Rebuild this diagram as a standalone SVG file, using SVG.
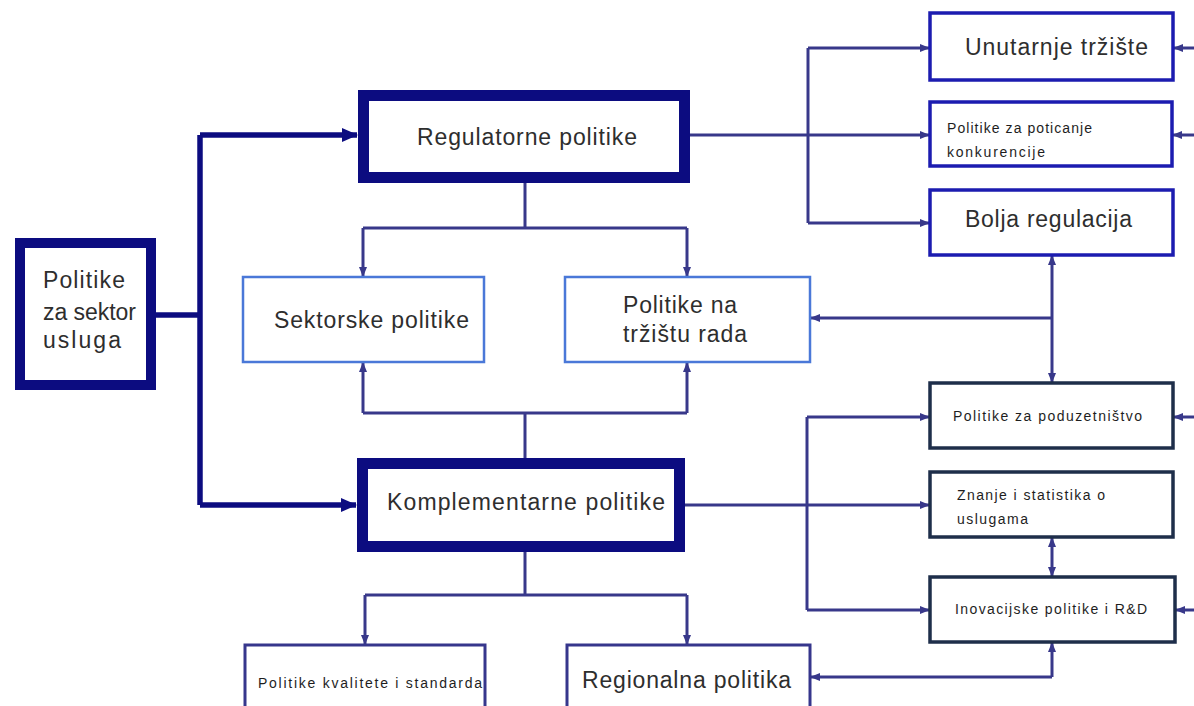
<svg xmlns="http://www.w3.org/2000/svg" width="1194" height="706" viewBox="0 0 1194 706">
<style>
text{font-family:"Liberation Sans","Open Sans",sans-serif;fill:#2e2e2e}
.big{font-size:23px}
.sm{font-size:14px;fill:#1e1e1e}
.thick{fill:#fff;stroke:#0c0c80;stroke-width:11}
.lb{fill:#fff;stroke:#4a78d8;stroke-width:2.5}
.bl{fill:#fff;stroke:#1c1cb0;stroke-width:3.5}
.dk{fill:#fff;stroke:#1e2e4a;stroke-width:3.5}
.pu{fill:#fff;stroke:#36368c;stroke-width:3}
.c{fill:none;stroke:#38388a;stroke-width:3}
.ct{fill:none;stroke:#0c0c80;stroke-width:5.5}
</style>
<defs>
<marker id="a" markerUnits="userSpaceOnUse" markerWidth="10" markerHeight="8" refX="9" refY="4" orient="auto"><path d="M0,0 L10,4 L0,8 Z" fill="#38388a"/></marker>
<marker id="as" markerUnits="userSpaceOnUse" markerWidth="10" markerHeight="8" refX="1" refY="4" orient="auto"><path d="M10,0 L0,4 L10,8 Z" fill="#38388a"/></marker>
<marker id="ab" markerUnits="userSpaceOnUse" markerWidth="16" markerHeight="14" refX="15" refY="7" orient="auto"><path d="M0,0 L16,7 L0,14 Z" fill="#0c0c80"/></marker>
</defs>
<rect width="1194" height="706" fill="#fff"/>
<g id="connectors">
<path class="ct" d="M156,315 H200"/>
<path class="ct" d="M200,135 V505"/>
<path class="ct" d="M200,135 H357" marker-end="url(#ab)"/>
<path class="ct" d="M200,505 H356" marker-end="url(#ab)"/>
<path class="c" d="M525,183 V228 M363,228 H687"/>
<path class="c" d="M363,228 V276" marker-end="url(#a)"/>
<path class="c" d="M687,228 V276" marker-end="url(#a)"/>
<path class="c" d="M363,413 H687 M525,413 V458"/>
<path class="c" d="M363,413 V363" marker-end="url(#a)"/>
<path class="c" d="M687,413 V363" marker-end="url(#a)"/>
<path class="c" d="M525,552 V595 M365,595 H687"/>
<path class="c" d="M365,595 V644" marker-end="url(#a)"/>
<path class="c" d="M687,595 V644" marker-end="url(#a)"/>
<path class="c" d="M690,135 H929" marker-end="url(#a)"/>
<path class="c" d="M808,48 V223"/>
<path class="c" d="M808,48 H929" marker-end="url(#a)"/>
<path class="c" d="M808,223 H929" marker-end="url(#a)"/>
<path class="c" d="M685,505 H929" marker-end="url(#a)"/>
<path class="c" d="M807,417 V610"/>
<path class="c" d="M807,417 H929" marker-end="url(#a)"/>
<path class="c" d="M807,610 H929" marker-end="url(#a)"/>
<path class="c" d="M1052,256 V382" marker-start="url(#as)" marker-end="url(#a)"/>
<path class="c" d="M1052,318 H811" marker-end="url(#a)"/>
<path class="c" d="M1052,538 V576" marker-start="url(#as)" marker-end="url(#a)"/>
<path class="c" d="M1052,677 V643" marker-end="url(#a)"/>
<path class="c" d="M1052,677 H811" marker-end="url(#a)"/>
<path class="c" d="M1194,48 H1174" marker-end="url(#a)"/>
<path class="c" d="M1194,135 H1173" marker-end="url(#a)"/>
<path class="c" d="M1194,417 H1174" marker-end="url(#a)"/>
<path class="c" d="M1194,610 H1176" marker-end="url(#a)"/>
</g>
<g id="n-sektor-usluga">
<rect x="20" y="243" width="131" height="142" fill="#fff" stroke="#0c0c80" stroke-width="10"/>
<text class="big" x="43" y="288" textLength="82">Politike</text>
<text class="big" x="43" y="320" textLength="93">za sektor</text>
<text class="big" x="43" y="348" textLength="78">usluga</text>
</g>
<g id="n-regulatorne">
<rect class="thick" x="363.5" y="95.5" width="321" height="82"/>
<text class="big" x="417" y="145" textLength="220">Regulatorne politike</text>
</g>
<g id="n-komplementarne">
<rect class="thick" x="362.5" y="463.5" width="317" height="83"/>
<text class="big" x="387" y="510" textLength="278">Komplementarne politike</text>
</g>
<g id="n-sektorske">
<rect class="lb" x="243" y="277" width="241" height="85"/>
<text class="big" x="274" y="328" textLength="195">Sektorske politike</text>
</g>
<g id="n-trziste-rada">
<rect class="lb" x="565" y="277" width="245" height="85"/>
<text class="big" x="623" y="313" textLength="114">Politike na</text>
<text class="big" x="623" y="342" textLength="124">tržištu rada</text>
</g>
<g id="n-unutarnje">
<rect class="bl" x="930" y="13" width="243" height="67"/>
<text class="big" x="965" y="55" textLength="183">Unutarnje tržište</text>
</g>
<g id="n-konkurencija">
<rect class="bl" x="930" y="102" width="242" height="64"/>
<text class="sm" x="947" y="133" textLength="145">Politike za poticanje</text>
<text class="sm" x="947" y="157" textLength="98">konkurencije</text>
</g>
<g id="n-bolja">
<rect class="bl" x="930" y="190" width="243" height="65"/>
<text class="big" x="965" y="227" textLength="167">Bolja regulacija</text>
</g>
<g id="n-poduzetnistvo">
<rect class="dk" x="930" y="383" width="243" height="65"/>
<text class="sm" x="953" y="421" textLength="189">Politike za poduzetništvo</text>
</g>
<g id="n-znanje">
<rect class="dk" x="930" y="472" width="243" height="65"/>
<text class="sm" x="957" y="500" textLength="148">Znanje i statistika o</text>
<text class="sm" x="957" y="524" textLength="71">uslugama</text>
</g>
<g id="n-inovacijske">
<rect class="dk" x="930" y="577" width="245" height="65"/>
<text class="sm" x="955" y="614" textLength="192">Inovacijske politike i R&amp;D</text>
</g>
<g id="n-kvaliteta">
<rect class="pu" x="245" y="645" width="240" height="80"/>
<text class="sm" x="258" y="688" textLength="224">Politike kvalitete i standarda</text>
</g>
<g id="n-regionalna">
<rect class="pu" x="567" y="645" width="243" height="80"/>
<text class="big" x="582" y="688" textLength="209">Regionalna politika</text>
</g>
</svg>
